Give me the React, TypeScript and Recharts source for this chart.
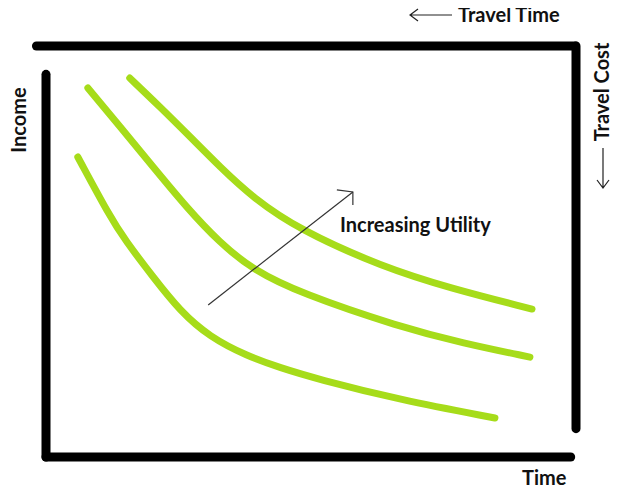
import { LineChart, Line, XAxis, YAxis, ReferenceLine } from 'recharts'

// indifference curves as [time, income] on a 0-100 scale
const lowCurve = [
  [6, 73], [12.1, 58.4], [14.9, 52.8], [20.2, 43.8], [25.3, 35.5], [30.9, 29.2],
  [37.9, 24.6], [44.2, 21.7], [51.1, 19], [66.8, 13.9], [84.7, 9.5],
]
const midCurve = [
  [7.9, 89.8], [14, 80.3], [20.2, 70.6], [26.6, 60.6], [32.8, 52.1], [39.1, 45.5],
  [47.9, 39.9], [66.8, 31.6], [78.7, 27.7], [91.3, 24.3],
]
const highCurve = [
  [15.8, 92.2], [21.5, 85.2], [27.2, 77.9], [32.8, 70.6], [39.1, 63], [47.9, 55.2],
  [63.6, 46.2], [76.2, 41.1], [91.7, 36],
]
const utilityArrow = [[30.6, 37], [57.9, 64.5]]

// frame strokes as [x1, y1, x2, y2]
const frameLines = [
  [0, 0, 0, 93.1],
  [0, 0, 99, 0],
  [-1.8, 100, 99.9, 100],
  [100, 100, 100, 6.9],
]

const toPoints = (arr: number[][]) => arr.map(([time, income]) => ({ time, income }))

const GREEN = '#a6dc1a'

function ArrowHead(props: any) {
  const { cx, cy, index } = props
  if (index !== 1 || cx == null) return <g key={`ah-${index}`} />
  return (
    <path
      key="ah"
      d={`M${cx - 16},${cy - 2} L${cx},${cy} L${cx},${cy + 13}`}
      fill="none"
      stroke="#333"
      strokeWidth={1.2}
    />
  )
}

export default function App() {
  return (
    <div style={{ position: 'relative', width: 610, height: 482, fontFamily: 'Lato, sans-serif' }}>
      <LineChart width={610} height={482} margin={{ top: 38, right: 42, bottom: 33, left: 38 }}>
        <XAxis type="number" dataKey="time" domain={[0, 100]} hide allowDataOverflow />
        <YAxis type="number" dataKey="income" domain={[0, 100]} hide allowDataOverflow />
        {frameLines.map(([x1, y1, x2, y2], i) => (
          <ReferenceLine
            key={i}
            segment={[{ x: x1, y: y1 }, { x: x2, y: y2 }]}
            ifOverflow="visible"
            stroke="#000"
            strokeWidth={9}
            strokeLinecap="round"
          />
        ))}
        <Line data={toPoints(lowCurve)} dataKey="income" type="basis" stroke={GREEN} strokeWidth={7} strokeLinecap="round" dot={false} isAnimationActive={false} />
        <Line data={toPoints(midCurve)} dataKey="income" type="basis" stroke={GREEN} strokeWidth={7} strokeLinecap="round" dot={false} isAnimationActive={false} />
        <Line data={toPoints(highCurve)} dataKey="income" type="basis" stroke={GREEN} strokeWidth={7} strokeLinecap="round" dot={false} isAnimationActive={false} />
        <Line data={toPoints(utilityArrow)} dataKey="income" type="linear" stroke="#333" strokeWidth={1.2} dot={ArrowHead} isAnimationActive={false} />
      </LineChart>
      {/* annotation layer in page coordinates */}
      <svg width={618} height={490} style={{ position: 'absolute', left: -8, top: -8, pointerEvents: 'none' }}>
        <g fill="#111" fontWeight={700} fontSize={20}>
          <text x={458} y={22}>Travel Time</text>
          <text x={340} y={232}>Increasing Utility</text>
          <text x={522} y={485}>Time</text>
          <text transform="translate(26,120) rotate(-90)" textAnchor="middle">Income</text>
          <text transform="translate(609,92) rotate(-90)" textAnchor="middle">Travel Cost</text>
        </g>
        <g stroke="#222" strokeWidth={1.2} fill="none">
          <path d="M410,15 L452,15 M418,9 L410,15 L418,21" />
          <path d="M603,148 L603,188 M597,180 L603,188 L609,180" />
        </g>
      </svg>
    </div>
  )
}
